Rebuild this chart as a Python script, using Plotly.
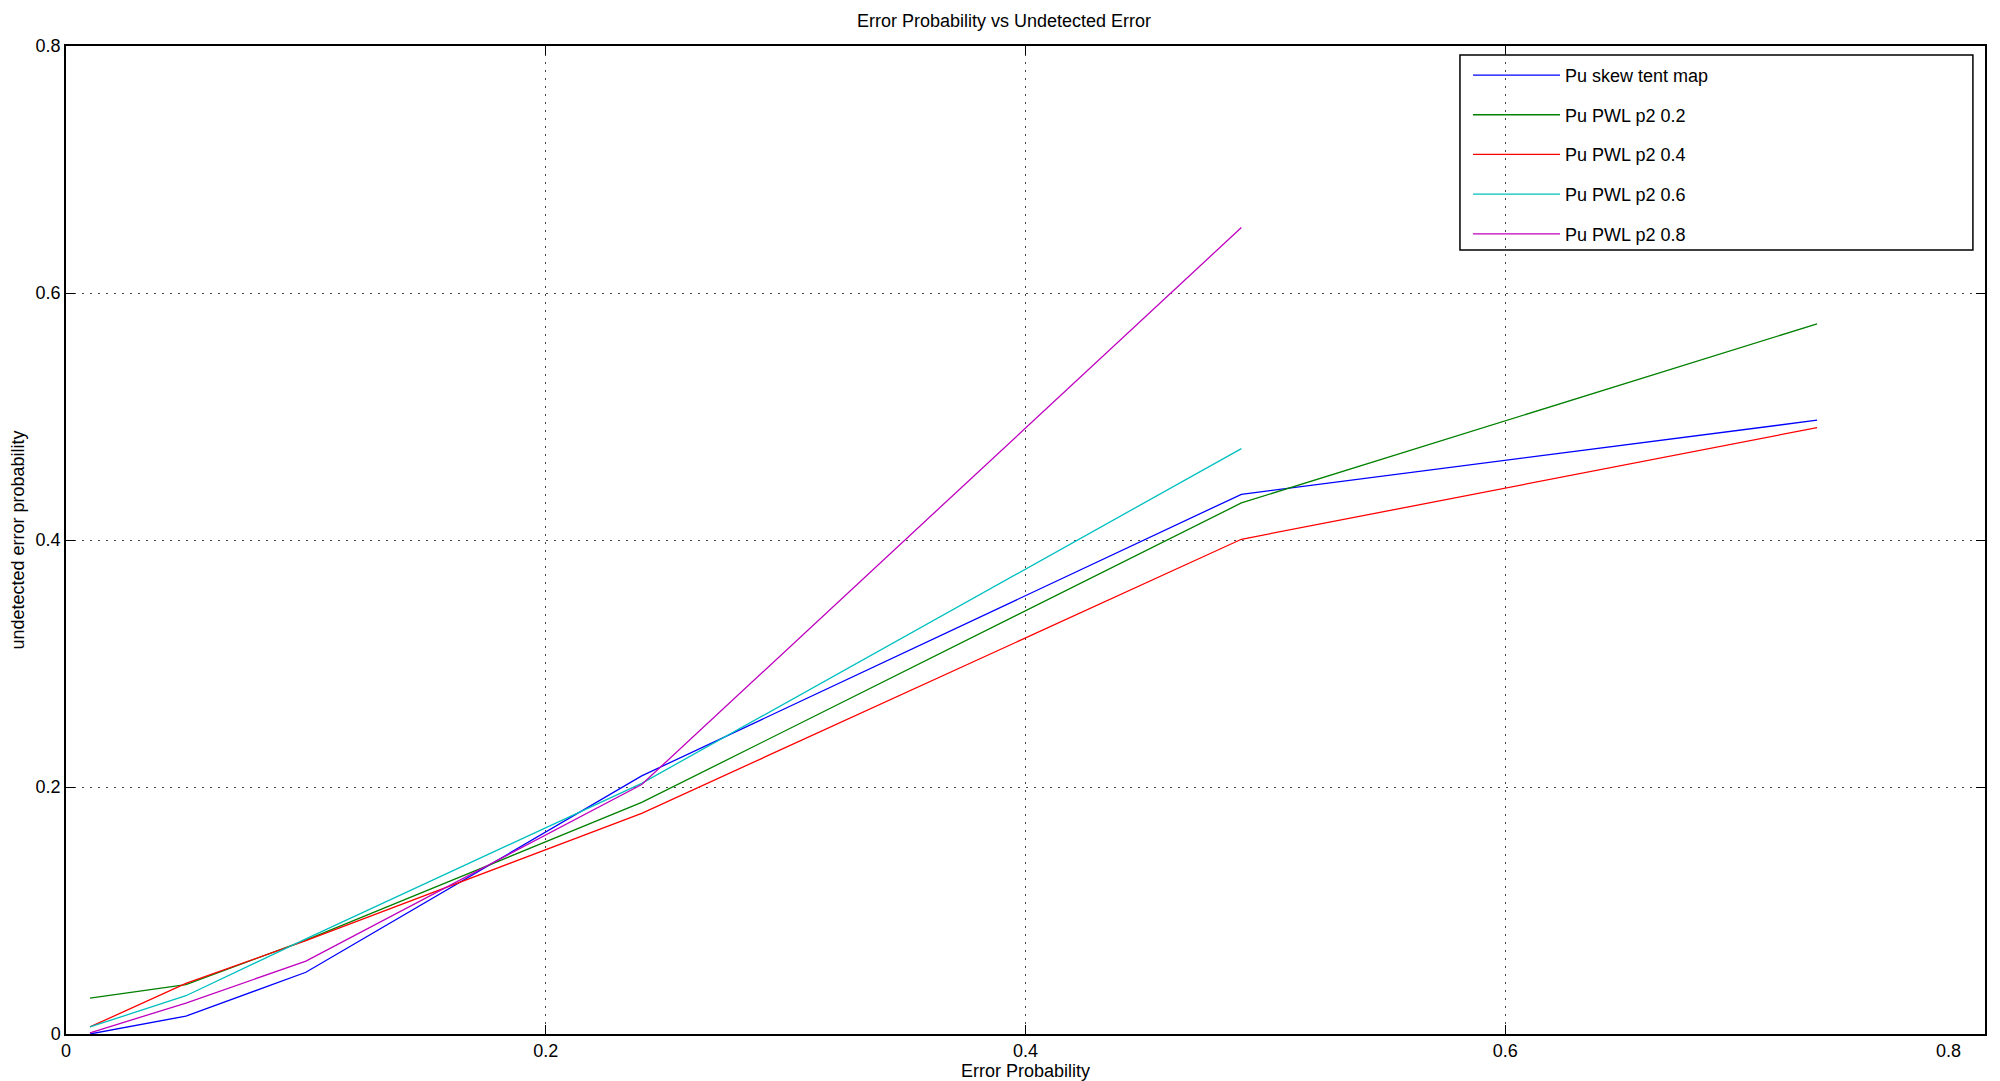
import plotly.graph_objects as go

FONT = "Liberation Sans, Arial, sans-serif"
GRID = "#444444"

error_prob = [0.01, 0.05, 0.1, 0.24, 0.49, 0.73]

skew_tent = [0.0, 0.0145, 0.050, 0.209, 0.437, 0.497]
pwl_02 = [0.029, 0.040, 0.076, 0.1875, 0.430, 0.575]
pwl_04 = [0.0057, 0.041, 0.0756, 0.1787, 0.4006, 0.491]
pwl_06 = [0.0057, 0.031, 0.077, 0.203, 0.474]
pwl_08 = [0.001, 0.025, 0.059, 0.202, 0.653]

series = [
    ("Pu skew tent map", skew_tent, "#0000ff"),
    ("Pu PWL p2 0.2", pwl_02, "#008000"),
    ("Pu PWL p2 0.4", pwl_04, "#ff0000"),
    ("Pu PWL p2 0.6", pwl_06, "#00bfbf"),
    ("Pu PWL p2 0.8", pwl_08, "#bf00bf"),
]

tick_vals = [0, 0.2, 0.4, 0.6, 0.8]
tick_text = ["0", "0.2", "0.4", "0.6", "0.8"]
# last x label sits left of its tick in the original, so it is drawn as an annotation
x_tick_text = tick_text[:-1] + [""]

fig = go.Figure()
for i, (name, ys, color) in enumerate(series):
    fig.add_trace(go.Scatter(
        x=error_prob[:len(ys)], y=ys, mode="lines", name=name,
        legendgroup=f"g{i}",
        line={"color": color, "width": 1.3},
    ))

axis_common = dict(
    range=[0, 0.8], tickvals=tick_vals,
    showgrid=True, gridcolor=GRID, griddash="2px,6px", gridwidth=1,
    showline=True, linecolor="black", linewidth=1.5, mirror="ticks",
    ticks="inside", ticklen=9, tickcolor="black", automargin=False,
    zeroline=False, tickfont={"size": 18, "color": "black"},
)

# page body has an 8px margin, so the figure is sized to fit inside the window
fig.update_layout(
    width=1992, height=1073,
    paper_bgcolor="white", plot_bgcolor="white",
    font={"family": FONT, "size": 18, "color": "black"},
    title={"text": "Error Probability vs Undetected Error", "x": 0.5, "xanchor": "center",
           "y": 0.988, "yanchor": "middle", "font": {"size": 18}},
    margin={"l": 58, "r": 15, "t": 38, "b": 47},
    xaxis={**axis_common, "ticktext": x_tick_text,
           "title": {"text": "Error Probability", "font": {"size": 18}, "standoff": 4}},
    yaxis={**axis_common, "ticktext": tick_text,
           "title": {"text": "undetected error probability", "font": {"size": 18}, "standoff": 14}},
    showlegend=True,
    legend={
        "x": 0.7306, "y": 0.989, "xanchor": "left", "yanchor": "top",
        "borderwidth": 0, "bgcolor": "rgba(0,0,0,0)",
        "font": {"size": 18}, "itemwidth": 87, "traceorder": "grouped",
        "tracegroupgap": 13.3,
    },
    shapes=[{
        "type": "rect", "xref": "paper", "yref": "paper",
        "x0": 0.7264, "x1": 0.9937, "y0": 0.7935, "y1": 0.991,
        "line": {"color": "black", "width": 1.5}, "fillcolor": "white", "layer": "below",
    }],
    annotations=[{
        "text": tick_text[-1], "xref": "x", "yref": "paper",
        "x": tick_vals[-1], "y": 0, "xanchor": "right", "yanchor": "middle",
        "xshift": -22, "yshift": -17, "showarrow": False,
        "font": {"size": 18, "color": "black"},
    }],
)

fig.write_html("out.html")
